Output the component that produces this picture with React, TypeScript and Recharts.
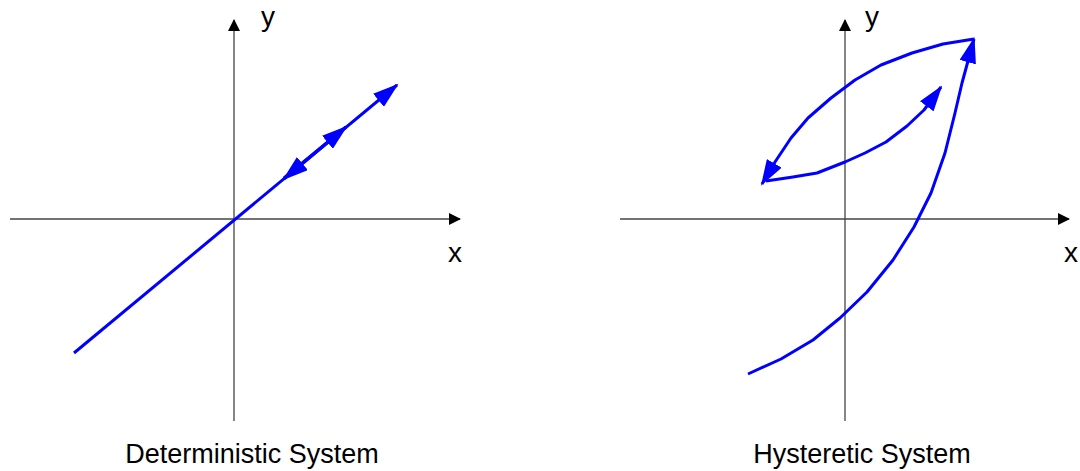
import { LineChart, Line, XAxis, YAxis } from "recharts";

// units: 1 = 10px, origin where the axes cross
const xAxisLeft = [{ x: -22.4, y: 0 }, { x: 22.6, y: 0 }];
const yAxisLeft = [{ x: 0, y: -20.2 }, { x: 0, y: 19.9 }];
const xAxisRight = [{ x: -22.5, y: 0 }, { x: 22.4, y: 0 }];
const yAxisRight = [{ x: 0, y: -20.2 }, { x: 0, y: 19.9 }];

// Deterministic: one straight path, travelled both ways
const detLine = [{ x: -16.0, y: -13.4 }, { x: 16.3, y: 13.4 }];
const detForward = [{ x: 5.0, y: 4.1 }, { x: 11.2, y: 9.2 }];
const detBackward = [{ x: 11.2, y: 9.2 }, { x: 5.0, y: 4.0 }];

// Hysteretic: loading, unloading, reloading
const hystLoading = [
  { x: -9.7, y: -15.5 },
  { x: -6.4, y: -14.0 },
  { x: -3.2, y: -12.1 },
  { x: -0.5, y: -9.9 },
  { x: 2.2, y: -7.3 },
  { x: 4.8, y: -4.1 },
  { x: 6.9, y: -0.8 },
  { x: 8.6, y: 2.6 },
  { x: 10.0, y: 6.6 },
  { x: 11.0, y: 10.6 },
  { x: 11.7, y: 13.6 },
  { x: 12.9, y: 18.0 },
];
const hystUnloading = [
  { x: 12.9, y: 18.0 },
  { x: 9.8, y: 17.5 },
  { x: 6.7, y: 16.6 },
  { x: 3.6, y: 15.4 },
  { x: 1.0, y: 13.9 },
  { x: -1.4, y: 12.1 },
  { x: -3.7, y: 10.1 },
  { x: -5.4, y: 8.1 },
  { x: -7.0, y: 5.7 },
  { x: -8.3, y: 3.5 },
];
const hystReloading = [
  { x: -7.9, y: 3.8 },
  { x: -5.2, y: 4.2 },
  { x: -2.8, y: 4.6 },
  { x: 0, y: 5.7 },
  { x: 2.0, y: 6.6 },
  { x: 4.1, y: 7.7 },
  { x: 6.2, y: 9.3 },
  { x: 7.9, y: 10.9 },
  { x: 9.6, y: 13.2 },
];

const BLUE = "#0000ff";
const AXIS = "#444";
const FONT = '"Liberation Sans", Arial, Helvetica, sans-serif';

function Markers() {
  return (
    <svg width={0} height={0} style={{ position: "absolute" }}>
      <defs>
        <marker
          id="blueHead"
          markerUnits="userSpaceOnUse"
          viewBox="0 0 26 17"
          markerWidth={26}
          markerHeight={17}
          refX={24}
          refY={8.5}
          orient="auto"
        >
          <path d="M0,0 L26,8.5 L0,17 Z" fill={BLUE} />
        </marker>
        <marker
          id="axisHead"
          markerUnits="userSpaceOnUse"
          viewBox="0 0 12 12"
          markerWidth={12}
          markerHeight={12}
          refX={11}
          refY={6}
          orient="auto"
        >
          <path d="M0,0 L12,6 L0,12 Z" fill="#000" />
        </marker>
      </defs>
    </svg>
  );
}

function Panel({ left, xDomain, axes, series }: any) {
  return (
    <div style={{ position: "absolute", left, top: 0 }}>
      <LineChart width={540} height={471} margin={{ top: 0, right: 0, bottom: 0, left: 0 }}>
        <XAxis type="number" dataKey="x" domain={xDomain} allowDataOverflow hide />
        <YAxis type="number" dataKey="y" domain={[-25.2, 21.9]} allowDataOverflow hide />
        {axes.map((d: any, i: number) => (
          <Line
            key={"a" + i}
            data={d}
            dataKey="y"
            type="linear"
            stroke={AXIS}
            strokeWidth={1.3}
            dot={false}
            activeDot={false}
            markerEnd="url(#axisHead)"
            isAnimationActive={false}
          />
        ))}
        {series.map((s: any, i: number) => (
          <Line
            key={"s" + i}
            data={s}
            dataKey="y"
            type="linear"
            stroke={BLUE}
            strokeWidth={3}
            strokeLinejoin="round"
            dot={false}
            activeDot={false}
            markerEnd="url(#blueHead)"
            isAnimationActive={false}
          />
        ))}
      </LineChart>
    </div>
  );
}

export default function App() {
  return (
    <div
      style={{
        position: "absolute",
        left: 0,
        top: 0,
        width: 1080,
        height: 471,
        background: "#fff",
        overflow: "hidden",
      }}
    >
      <Markers />
      <Panel
        left={0}
        xDomain={[-23.4, 30.6]}
        axes={[xAxisLeft, yAxisLeft]}
        series={[detLine, detForward, detBackward]}
      />
      <Panel
        left={540}
        xDomain={[-30.5, 23.5]}
        axes={[xAxisRight, yAxisRight]}
        series={[hystLoading, hystUnloading, hystReloading]}
      />
      <svg
        width={1080}
        height={471}
        style={{ position: "absolute", left: 0, top: 0, pointerEvents: "none" }}
        fontFamily={FONT}
      >
        <text x={268} y={26} fontSize={28} textAnchor="middle">y</text>
        <text x={455} y={262} fontSize={28} textAnchor="middle">x</text>
        <text x={252} y={463} fontSize={27} textAnchor="middle">Deterministic System</text>
        <text x={872} y={26} fontSize={28} textAnchor="middle">y</text>
        <text x={1071} y={262} fontSize={28} textAnchor="middle">x</text>
        <text x={862} y={463} fontSize={27} textAnchor="middle">Hysteretic System</text>
      </svg>
    </div>
  );
}
